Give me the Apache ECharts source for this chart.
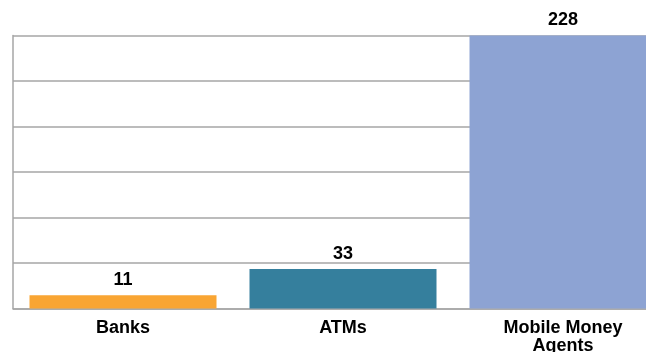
<!DOCTYPE html>
<html><head><meta charset="utf-8">
<script src="https://cdn.jsdelivr.net/npm/echarts@6/dist/echarts.min.js"></script>
<style>html,body{margin:0;padding:0;background:#fff}#c{width:646px;height:352px}</style>
</head><body><div id="c"></div>
<script>
const categories = ["Banks", "ATMs", "Mobile Money\nAgents"];
const values = [11, 33, 228];
const colors = ["#F9A533", "#357F9D", "#8DA3D3"];

const chart = echarts.init(document.getElementById('c'), null, {renderer: 'canvas'});
chart.setOption({
  animation: false,
  grid: {left: 13, width: 660, top: 35.5, height: 273, containLabel: false, outerBoundsMode: 'none'},
  xAxis: {
    type: 'category', data: categories,
    axisLine: {lineStyle: {color: '#a6a6a6', width: 1.5}},
    axisTick: {show: false},
    axisLabel: {color: '#000', fontFamily: 'Liberation Sans, Arial', fontWeight: 'bold', fontSize: 18, margin: 11, lineHeight: 18, interval: 0}
  },
  yAxis: {
    type: 'value', min: 0, max: 228, interval: 38,
    axisLine: {show: true, lineStyle: {color: '#a6a6a6', width: 1.5}},
    axisTick: {show: false}, axisLabel: {show: false},
    splitLine: {lineStyle: {color: '#a6a6a6', width: 1.5}}
  },
  series: [{
    type: 'bar', barCategoryGap: '15%',
    data: values.map((v, i) => ({value: v, itemStyle: {color: colors[i]}})),
    label: {show: true, position: 'top', distance: 6, color: '#000', fontFamily: 'Liberation Sans, Arial', fontWeight: 'bold', fontSize: 18}
  }]
});
</script></body></html>
